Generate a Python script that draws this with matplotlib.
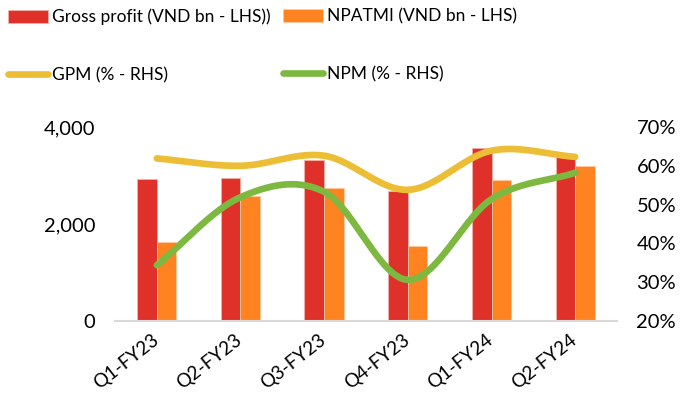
import numpy as np
import matplotlib.pyplot as plt
from matplotlib.ticker import FuncFormatter

plt.rcParams['font.family'] = ['Lato', 'DejaVu Sans']

quarters = ['Q1-FY23', 'Q2-FY23', 'Q3-FY23', 'Q4-FY23', 'Q1-FY24', 'Q2-FY24']
gross_profit = [2920, 2940, 3310, 2680, 3570, 3390]   # VND bn
npatmi = [1620, 2580, 2750, 1550, 2900, 3200]         # VND bn
gpm = [61.9, 60.0, 62.6, 53.8, 63.9, 62.3]            # %
npm = [34.4, 51.9, 53.3, 30.6, 51.4, 58.2]            # %

RED = '#E0302A'
ORANGE = '#FF8320'
YELLOW = '#EBBE35'
GREEN = '#7DB940'


def smooth(x, y, n=40):
    # Catmull-Rom curve through the points, like Excel's smoothed line
    x = np.asarray(x, float)
    y = np.asarray(y, float)
    px = np.concatenate([[2 * x[0] - x[1]], x, [2 * x[-1] - x[-2]]])
    py = np.concatenate([[2 * y[0] - y[1]], y, [2 * y[-1] - y[-2]]])
    xs, ys = [], []
    t = np.linspace(0, 1, n)
    for i in range(1, len(px) - 2):
        for p, out in ((px, xs), (py, ys)):
            p0, p1, p2, p3 = p[i - 1], p[i], p[i + 1], p[i + 2]
            out.extend(0.5 * (2 * p1 + (-p0 + p2) * t
                              + (2 * p0 - 5 * p1 + 4 * p2 - p3) * t ** 2
                              + (-p0 + 3 * p1 - 3 * p2 + p3) * t ** 3))
    return np.array(xs), np.array(ys)


fig = plt.figure(figsize=(6.82, 3.95), dpi=100)
ax = fig.add_axes([0.1686, 0.1873, 0.7361, 0.4912])
x = np.arange(len(quarters))
w = 0.235

b1 = ax.bar(x - w / 2, gross_profit, w, color=RED, edgecolor='#F6B0A8', linewidth=0.6,
            label='Gross profit (VND bn - LHS))')
b2 = ax.bar(x + w / 2, npatmi, w, color=ORANGE, edgecolor='#FFC9A0', linewidth=0.6,
            label='NPATMI (VND bn - LHS)')
ax.set_ylim(0, 4000)
ax.set_xlim(-0.5, len(quarters) - 0.5)
ax.set_yticks([0, 2000, 4000])
ax.yaxis.set_major_formatter(FuncFormatter(lambda v, _: f'{v:,.0f}'))
ax.set_xticks(x - 0.07)
ax.set_xticklabels(quarters, rotation=38, ha='right', rotation_mode='anchor')
ax.tick_params(axis='both', length=0, labelsize=14.5)
ax.tick_params(axis='x', pad=7, labelsize=13.5)
ax.tick_params(axis='y', pad=14)
for s in ['top', 'right', 'left']:
    ax.spines[s].set_visible(False)
ax.spines['bottom'].set_color('#D9D9D9')
ax.spines['bottom'].set_linewidth(1.5)

ax2 = ax.twinx()
ax2.set_ylim(20, 70)
ax2.set_yticks(range(20, 71, 10))
ax2.yaxis.set_major_formatter(FuncFormatter(lambda v, _: f'{v:.0f}%'))
ax2.tick_params(axis='y', length=0, labelsize=14.5, pad=14)
for s in ax2.spines.values():
    s.set_visible(False)

sx, sy = smooth(x, gpm)
l1, = ax2.plot(sx, sy, color=YELLOW, lw=4.8, solid_capstyle='round', label='GPM (% - RHS)')
sx, sy = smooth(x, npm)
l2, = ax2.plot(sx, sy, color=GREEN, lw=4.8, solid_capstyle='round', label='NPM (% - RHS)')

# two legend columns, placed separately
leg_kw = dict(loc='upper left', frameon=False, fontsize=12.5, handlelength=2.3,
              handleheight=0.75, handletextpad=0.25, labelspacing=2.4, borderpad=0,
              borderaxespad=0)
leg1 = fig.legend([b1, l1], [b1.get_label(), l1.get_label()],
                  bbox_to_anchor=(0.012, 0.978), **leg_kw)
leg2 = fig.legend([b2, l2], [b2.get_label(), l2.get_label()],
                  bbox_to_anchor=(0.415, 0.978), **leg_kw)

fig.savefig('out.png', dpi=100)
